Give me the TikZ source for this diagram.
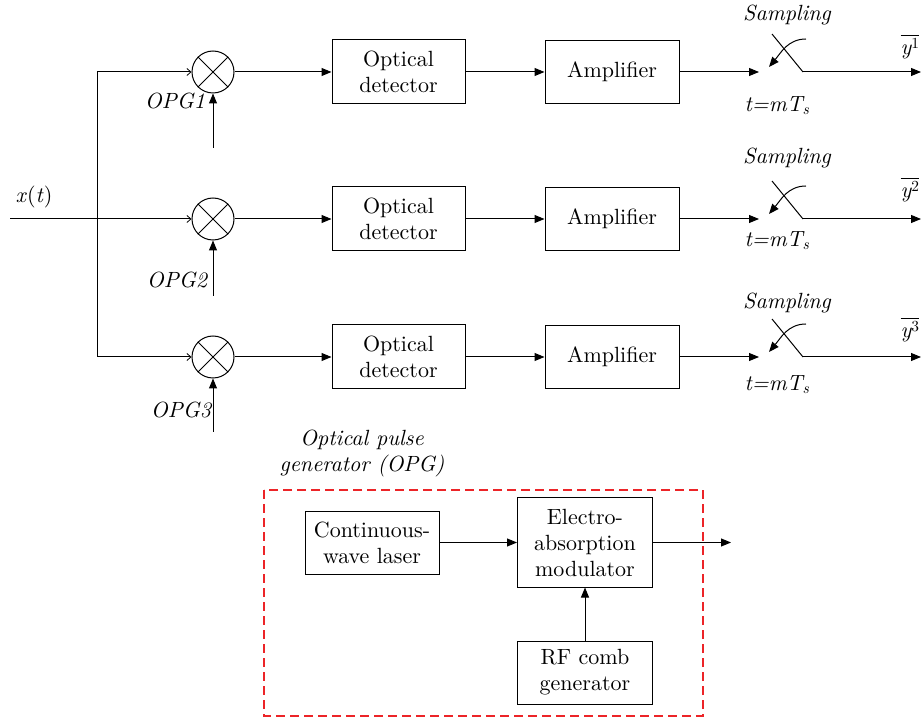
\documentclass[tikz,border=0pt]{standalone}
\usepackage{fontspec}
\usepackage{amsmath}
\setmainfont{lmroman10-regular.otf}[ItalicFont=lmroman10-italic.otf,BoldFont=lmroman10-bold.otf]
\usetikzlibrary{arrows.meta}
\definecolor{opgred}{RGB}{236,36,40}

\begin{document}
\begin{tikzpicture}[x=1pt,y=-1pt,line width=1pt,
  txt/.style={font=\fontsize{22}{26}\selectfont},
  lbl/.style={txt,inner sep=0pt,font=\fontsize{22}{26}\selectfont\itshape},
  blk/.style={draw,txt,align=center,inner sep=0pt},
  detbox/.style={blk,minimum width=133,minimum height=64},
  ampbox/.style={blk,minimum width=134,minimum height=63},
  mixer/.style={draw,circle,minimum size=42,inner sep=0pt},
  arr/.style={-{Triangle[length=10pt,width=8pt]}},
  thinarr/.style={-{Straight Barb[length=4pt,width=7pt,line width=0.8pt]}},
  opgbox/.style={draw=opgred,dash pattern=on 9pt off 5pt,line width=1.4pt}]
\useasboundingbox (0,0) rectangle (922,719);

% input signal and the branching bus
\node[lbl,anchor=center] (xt) at (34,197) {\textit{x}\textup{(}\textit{t}\textup{)}};
\coordinate (in) at (10,219);
\coordinate (br) at (97,219);
\coordinate (bt) at (97,72);
\coordinate (bb) at (97,357);
\draw (in) -- (br);
\draw (bt) -- (bb);

% three identical channels
\foreach \i/\y/\opgbot/\opgx/\opgy/\smy/\tmy/\yy in
  {1/72/148/175/101/15/106/47, 2/219/296/177/280/158/241/190, 3/357/432/181/410/303/385/330}{
  \node[mixer] (m\i) at (213,\y) {};
  \draw (m\i.45) -- (m\i.225) (m\i.135) -- (m\i.-45);
  \node[detbox] (d\i) at (398.5,\y) {Optical\\detector};
  \node[ampbox] (a\i) at (612,\y) {Amplifier};
  \coordinate (b\i) at (97,\y);
  \draw[thinarr] (b\i) -- (m\i.west);
  \draw[arr] (m\i) -- (d\i);
  \draw[arr] (d\i) -- (a\i);
  % optical pulse input of the mixer
  \coordinate (p\i) at (213,\opgbot);
  \draw[arr] (p\i) -- (m\i.south);
  \node[lbl] (opg\i) at (\opgx,\opgy) {OPG\i};
  % sampling switch
  \coordinate (t\i) at (759,\y);
  \coordinate (sa\i) at (772,\y-38);
  \coordinate (sb\i) at (803,\y);
  \coordinate (o\i) at (921,\y);
  \coordinate (ca\i) at (806,\y-33);
  \coordinate (cb\i) at (769,\y-5);
  \draw[arr] (a\i) -- (t\i);
  \draw (sa\i) -- (sb\i);
  \draw[arr] (sb\i) -- (o\i);
  \draw[arr] (ca\i) to[out=180,in=50] (cb\i);
  \node[lbl] (smp\i) at (787,\smy) {Sampling};
  \node[lbl] (tm\i) at (777,\tmy) {t=mT\textsubscript{s}};
  \node[txt,inner sep=0pt] (y\i) at (910,\yy) {$\overline{\text{\itshape y}^{\text{\upshape\i}}}$};
}

% optical pulse generator
\node[lbl,align=center] (opgtitle) at (362,453) {Optical pulse\\generator (OPG)};
\draw[opgbox] (264,490) rectangle (703,716);
\node[blk,minimum width=134,minimum height=63] (cw) at (372,542.5) {Continuous-\\wave laser};
\node[blk,minimum width=135,minimum height=89] (eam) at (585,542.5) {Electro-\\absorption\\modulator};
\node[blk,minimum width=135,minimum height=63] (rf) at (585,672.5) {RF comb\\generator};
\coordinate (out) at (731,542.5);
\draw[arr] (cw) -- (eam);
\draw[arr] (eam) -- (out);
\draw[arr] (rf) -- (eam);
\end{tikzpicture}
\end{document}
